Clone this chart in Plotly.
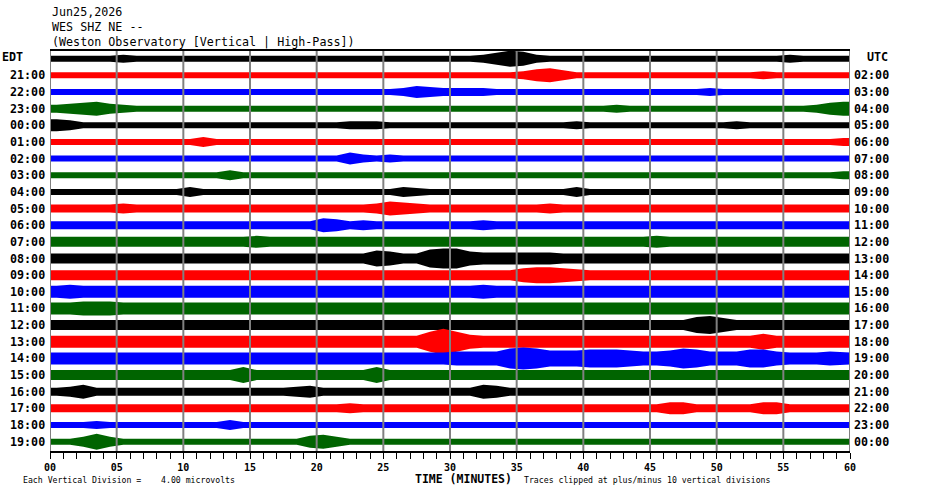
import plotly.graph_objects as go

# helicorder rows, top to bottom: local (EDT) and UTC hour labels
left_labels = ["EDT", "21:00", "22:00", "23:00", "00:00", "01:00", "02:00", "03:00",
               "04:00", "05:00", "06:00", "07:00", "08:00", "09:00", "10:00", "11:00",
               "12:00", "13:00", "14:00", "15:00", "16:00", "17:00", "18:00", "19:00"]
right_labels = ["UTC", "02:00", "03:00", "04:00", "05:00", "06:00", "07:00", "08:00",
                "09:00", "10:00", "11:00", "12:00", "13:00", "14:00", "15:00", "16:00",
                "17:00", "18:00", "19:00", "20:00", "21:00", "22:00", "23:00", "00:00"]
trace_colors = ["#000000", "#ff0000", "#0000ff", "#006400"]

minutes = list(range(61))
minute_labels = [f"{m:02d}" if m % 5 == 0 else "" for m in minutes]
grid_minutes = list(range(0, 61, 5))

# half-height of each trace (pixels), one value per minute
envelope = [
    [3,3,3,3,3,4,3,3,3,3, 3,3,3,3,3,3,3,3,3,3, 3,3,3,3,3,3,3,3,3,3, 3,3,4,6,8,7,4,3,3,3, 3,3,3,3,3,3,3,3,3,3, 3,3,3,3,3,4,3,3,3,3],
    [3,3,3,3,3,3,3,3,3,3, 3,3,3,3,3,3,3,3,3,3, 3,3,3,3,3,3,3,3,3,3, 3,3,3,3,3,4,6,7,5,3, 3,3,3,3,3,3,3,3,3,3, 3,3,3,4,3,3,3,3,3,3],
    [3,3,3,3,3,3,3,3,3,3, 3,3,3,3,3,3,3,3,3,3, 3,3,3,3,3,3,4,6,5,4, 4,4,4,3,3,3,3,3,3,3, 3,3,3,3,3,3,3,3,3,4, 3,3,3,3,3,3,3,3,3,3],
    [4,5,6,7,5,4,3,3,3,3, 3,3,3,3,3,3,3,3,3,3, 3,3,3,3,3,3,3,3,3,3, 3,3,3,3,3,3,3,3,3,3, 3,3,4,3,3,3,3,3,3,3, 3,3,3,3,3,3,3,4,6,7],
    [6,5,3,3,3,3,3,3,3,3, 3,3,3,3,3,3,3,3,3,3, 3,3,4,4,4,3,3,3,3,3, 3,3,3,3,3,3,3,3,3,4, 3,3,3,3,3,3,3,3,3,3, 3,4,3,3,3,3,3,3,3,3],
    [3,3,3,3,3,3,3,3,3,3, 3,5,3,3,3,3,3,3,3,3, 3,3,3,3,3,3,3,3,3,3, 3,3,3,3,3,3,3,3,3,3, 3,3,3,3,3,3,3,3,3,3, 3,3,3,3,3,3,3,3,3,4],
    [3,3,3,3,3,3,3,3,3,3, 3,3,3,3,3,3,3,3,3,3, 3,3,6,4,3,4,3,3,3,3, 3,3,3,3,3,3,3,3,3,3, 3,3,3,3,3,3,3,3,3,3, 3,3,3,3,3,3,3,3,3,3],
    [3,3,3,3,3,3,3,3,3,3, 3,3,3,5,3,3,3,3,3,3, 3,3,3,3,3,3,3,3,3,3, 3,3,3,3,3,3,3,3,3,3, 3,3,3,3,3,3,3,3,3,3, 3,3,3,3,3,3,3,3,3,4],
    [3,3,3,3,3,3,3,3,3,3, 5,3,3,3,3,3,3,3,3,3, 3,3,3,3,3,3,5,4,3,3, 3,3,3,3,3,3,3,3,3,5, 3,3,3,3,3,3,3,3,3,3, 3,3,3,3,3,3,3,3,3,3],
    [4,4,4,4,4,5,4,4,4,4, 4,4,4,4,4,4,4,4,4,4, 4,4,4,4,5,7,6,5,4,4, 4,4,4,4,4,4,4,5,4,4, 4,4,4,4,4,4,4,4,4,4, 4,4,4,4,4,4,4,4,4,4],
    [4,4,4,4,4,4,4,4,4,4, 4,4,4,4,4,4,4,4,4,4, 7,6,4,5,4,4,4,4,4,4, 4,4,5,4,4,4,4,4,4,4, 4,4,4,4,4,4,4,4,4,4, 4,4,4,4,4,4,4,4,4,4],
    [5,5,5,5,5,5,5,5,5,5, 5,5,5,5,5,6,5,5,5,5, 5,5,5,5,5,5,5,5,5,5, 5,5,5,5,5,5,5,5,5,5, 5,5,5,5,5,6,5,5,5,5, 5,5,5,5,5,5,5,5,5,5],
    [5,5,5,5,5,5,5,5,5,5, 5,5,5,5,5,5,5,5,5,5, 5,5,5,5,8,7,5,5,9,10, 10,7,6,6,6,6,6,6,5,5, 5,5,5,5,5,5,5,5,5,5, 5,5,5,5,5,5,5,5,5,5],
    [5,5,5,5,5,5,5,5,5,5, 5,5,5,5,5,5,5,5,5,5, 5,5,5,5,5,5,5,5,5,5, 5,5,5,5,5,7,8,8,7,6, 5,5,5,5,5,5,5,5,5,5, 5,5,5,5,5,5,5,5,5,5],
    [6,7,6,6,6,6,6,6,6,6, 6,6,6,6,6,6,6,6,6,6, 6,6,6,6,6,6,6,6,6,6, 6,6,7,6,6,6,6,6,6,6, 6,6,6,6,6,6,6,6,6,6, 6,6,6,6,6,6,6,6,6,6],
    [6,6,7,7,7,6,6,6,6,6, 6,6,6,6,6,6,6,6,6,6, 6,6,6,6,6,6,6,6,6,6, 6,6,6,6,6,6,6,6,6,6, 6,6,6,6,6,6,6,6,6,6, 6,6,6,6,6,6,6,6,6,6],
    [5,5,5,5,5,5,5,5,5,5, 5,5,5,5,5,5,5,5,5,5, 5,5,5,5,5,5,5,5,5,5, 5,5,5,5,5,5,5,5,5,5, 5,5,5,5,5,5,5,5,8,9, 7,5,5,5,5,5,5,5,5,5],
    [6,6,6,6,6,6,6,6,6,6, 6,6,6,6,6,6,6,6,6,6, 6,6,6,6,6,6,6,6,10,13, 10,7,6,6,6,6,6,6,6,6, 6,6,6,6,6,6,6,6,6,6, 6,6,6,8,6,6,6,6,6,6],
    [6,6,6,6,6,6,6,6,6,6, 6,6,6,6,6,6,6,6,6,6, 6,6,6,6,6,6,6,6,6,6, 7,7,7,7,10,11,10,8,8,8, 9,9,9,8,7,7,8,10,9,7, 7,7,9,9,7,6,6,6,7,6],
    [5,5,5,5,5,5,5,5,5,5, 5,5,5,5,8,5,5,5,5,5, 5,5,5,5,8,5,5,5,5,5, 5,5,5,5,5,5,5,5,5,5, 5,5,5,5,5,5,5,5,5,5, 5,5,5,5,5,5,5,5,5,5],
    [4,5,7,4,4,4,4,4,4,4, 4,4,4,4,4,4,4,4,5,6, 4,4,4,4,4,4,4,4,4,4, 4,4,7,6,4,4,4,4,4,4, 4,4,4,4,4,4,4,4,4,4, 4,4,4,4,4,4,4,4,4,4],
    [4,4,4,4,4,4,4,4,4,4, 4,4,4,4,4,4,4,4,4,4, 4,4,5,4,4,4,4,4,4,4, 4,4,4,4,4,4,4,4,4,4, 4,4,4,4,4,4,6,6,4,4, 4,4,4,6,6,4,4,4,4,4],
    [3,3,3,4,3,3,3,3,3,3, 3,3,3,5,3,3,3,3,3,3, 3,3,3,3,3,3,3,3,3,3, 3,3,3,3,3,3,3,3,3,3, 3,3,3,3,3,3,3,3,3,3, 3,3,3,3,3,3,3,3,3,3],
    [3,3,5,8,5,3,3,3,3,3, 3,3,3,3,3,3,3,3,3,6, 7,5,3,3,3,3,3,3,3,3, 3,3,3,3,3,3,3,3,3,3, 3,3,3,3,3,3,3,3,3,3, 3,3,3,3,3,3,3,3,3,3],
]

row_px = 16.65  # vertical spacing between traces in pixels
mono = "DejaVu Sans Mono"

# envelope values sit at the middle of each minute; ends pinned to the drum edges
x_env = [0] + [m + 0.5 for m in range(60)] + [60]

fig = go.Figure()
for i, amps in enumerate(envelope):
    color = trace_colors[i % 4]
    half = [a / row_px for a in [amps[0]] + amps + [amps[-1]]]
    fig.add_trace(go.Scatter(
        x=x_env, y=[-i + h for h in half], mode="lines",
        line=dict(color=color, width=0), hoverinfo="skip", showlegend=False,
    ))
    fig.add_trace(go.Scatter(
        x=x_env, y=[-i - h for h in half], mode="lines",
        line=dict(color=color, width=0), fill="tonexty", fillcolor=color,
        hoverinfo="skip", showlegend=False,
    ))

for m in grid_minutes:
    fig.add_vline(x=m, line_color="#808080", line_width=2, layer="above")

annotations = []
for i, (lt, rt) in enumerate(zip(left_labels, right_labels)):
    if i == 0:
        annotations.append(dict(x=-0.0625, y=-i + 0.12, text=lt, xanchor="left"))
        annotations.append(dict(x=1.019, y=-i + 0.12, text=rt, xanchor="left"))
    else:
        annotations.append(dict(x=-0.004, y=-i, text=lt, xanchor="right"))
        annotations.append(dict(x=1.003, y=-i, text=rt, xanchor="left"))
for a in annotations:
    a.update(xref="paper", yref="y", yanchor="middle", showarrow=False,
             font=dict(family=mono, size=11.7, color="black", weight="bold"))

header = ["Jun25,2026", "WES SHZ NE --", "(Weston Observatory [Vertical | High-Pass])"]
for k, line in enumerate(header):
    annotations.append(dict(
        x=0, y=1.0975 - k * 0.0375, xref="paper", yref="paper", text=line,
        xanchor="left", yanchor="middle", showarrow=False,
        font=dict(family=mono, size=11.7, color="black"),
    ))

annotations += [
    dict(x=0.454, y=-0.07, text="TIME (MINUTES)", xanchor="left",
         font=dict(family=mono, size=11.5, color="black", weight="bold")),
    dict(x=-0.036, y=-0.0725, text="Each Vertical Division =    4.00 microvolts",
         xanchor="left", font=dict(family=mono, size=8.2, color="black")),
    dict(x=0.59, y=-0.0725, text="Traces clipped at plus/minus 10 vertical divisions",
         xanchor="left", font=dict(family=mono, size=8.2, color="black")),
]
for a in annotations[-3:]:
    a.update(xref="paper", yref="paper", yanchor="middle", showarrow=False)

fig.update_layout(
    width=930, height=494,
    margin=dict(l=50, r=80, t=51, b=43),
    paper_bgcolor="white", plot_bgcolor="white",
    annotations=annotations,
    xaxis=dict(
        range=[0, 60], tickmode="array", tickvals=minutes, ticktext=minute_labels,
        ticks="outside", ticklen=6, tickwidth=1, tickcolor="black",
        showline=True, linecolor="black", linewidth=2, mirror=True,
        showgrid=False, zeroline=False,
        tickfont=dict(family=mono, size=10, color="black", weight="bold"),
    ),
    yaxis=dict(
        range=[-23.56, 0.4625], showticklabels=False, showgrid=False,
        zeroline=False, showline=False,
    ),
)

# drop the browser's default page margin so the figure sits at the window origin
fig.write_html("out.html", config={"displayModeBar": False},
               post_script="document.body.style.margin = '0';")
